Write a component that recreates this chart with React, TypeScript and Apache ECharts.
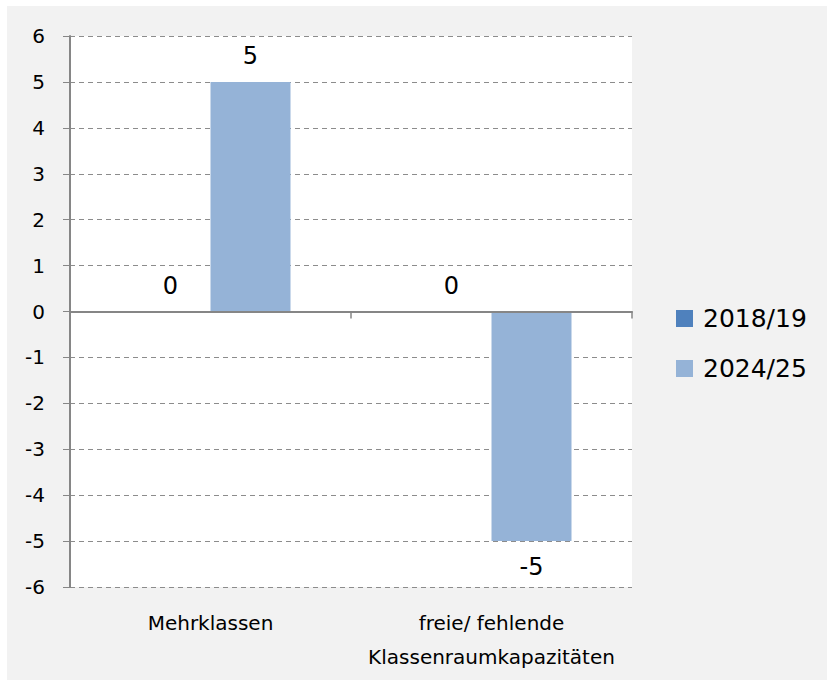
import React, { useEffect, useRef } from "react";
import * as echarts from "echarts";

const categories = ["Mehrklassen", "freie/ fehlende\nKlassenraumkapazitäten"];
const seriesNames = ["2018/19", "2024/25"];
const values2018 = [0, 0];
const values2024 = [5, -5];
const colors = ["#4f81bd", "#95b3d7"];

const FONT = "DejaVu Sans";

export default function App() {
  const ref = useRef<HTMLDivElement>(null);
  useEffect(() => {
    if (!ref.current) return;
    const chart = echarts.init(ref.current, null, { renderer: "svg" });
    const mkData = (arr: number[]) =>
      arr.map((v) => (v < 0 ? { value: v, label: { position: "bottom" } } : { value: v }));
    chart.setOption({
      animation: false,
      backgroundColor: "transparent",
      graphic: [
        {
          type: "rect",
          z: -10,
          silent: true,
          shape: { x: 7, y: 6, width: 820, height: 674 },
          style: { fill: "#f2f2f2" },
        },
      ],
      grid: {
        left: 70,
        right: 195,
        top: 36,
        bottom: 93,
        show: true,
        backgroundColor: "#ffffff",
        borderWidth: 0,
      },
      legend: {
        orient: "vertical",
        left: 676,
        top: 306,
        padding: 0,
        itemWidth: 17,
        itemHeight: 17,
        itemGap: 25,
        icon: "rect",
        data: seriesNames,
        textStyle: { fontFamily: FONT, fontSize: 25, color: "#000", padding: [0, 0, 0, 5] },
      },
      xAxis: [
        {
          type: "category",
          data: categories,
          position: "bottom",
          z: 5,
          axisLine: { onZero: true, lineStyle: { color: "#868686", width: 2 } },
          axisTick: { show: true, length: 7, interval: 0, lineStyle: { color: "#868686", width: 1.5 } },
          axisLabel: { show: false },
          splitLine: { show: false },
        },
        {
          type: "category",
          data: categories,
          position: "bottom",
          axisLine: { show: false, onZero: false },
          axisTick: { show: false },
          axisLabel: {
            show: true,
            interval: 0,
            margin: 19,
            fontFamily: FONT,
            fontSize: 20,
            lineHeight: 34,
            color: "#000",
          },
          splitLine: { show: false },
        },
      ],
      yAxis: {
        type: "value",
        min: -6,
        max: 6,
        interval: 1,
        axisLine: { show: true, lineStyle: { color: "#868686", width: 2 } },
        axisTick: { show: true, length: 7, lineStyle: { color: "#868686", width: 1 } },
        axisLabel: { margin: 25, fontFamily: FONT, fontSize: 20, color: "#000" },
        splitLine: { show: true, lineStyle: { color: "#8c8c8c", type: [5, 4], width: 1 } },
      },
      series: [
        {
          name: seriesNames[0],
          type: "bar",
          xAxisIndex: 0,
          barWidth: 80,
          barGap: "0%",
          itemStyle: { color: colors[0] },
          label: { show: true, position: "top", distance: 14, fontFamily: FONT, fontSize: 24, color: "#000" },
          data: mkData(values2018),
        },
        {
          name: seriesNames[1],
          type: "bar",
          xAxisIndex: 0,
          barWidth: 80,
          barGap: "0%",
          itemStyle: { color: colors[1] },
          label: { show: true, position: "top", distance: 14, fontFamily: FONT, fontSize: 24, color: "#000" },
          data: mkData(values2024),
        },
      ],
    });
    return () => chart.dispose();
  }, []);
  return (
    <div
      ref={ref}
      style={{ position: "absolute", left: 0, top: 0, width: 827, height: 680 }}
    />
  );
}
